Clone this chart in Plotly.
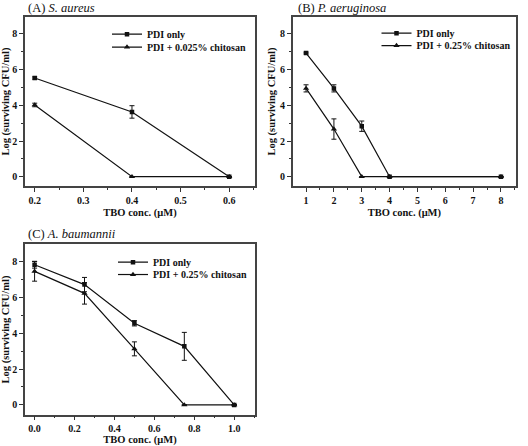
import plotly.graph_objects as go

# ---- data ----
a_x = [0.2, 0.4, 0.6]
a_pdi = [5.53, 3.63, 0.0]
a_pdi_err = [0.06, 0.35, 0.0]
a_chi = [4.02, 0.0, 0.0]
a_chi_err = [0.1, 0.0, 0.0]

b_x = [1, 2, 3, 4, 8]
b_pdi = [6.93, 4.95, 2.83, 0.0, 0.0]
b_pdi_err = [0.05, 0.2, 0.29, 0.0, 0.0]
b_chi = [4.95, 2.67, 0.0, 0.0, 0.0]
b_chi_err = [0.2, 0.57, 0.0, 0.0, 0.0]

c_x = [0.0, 0.25, 0.5, 0.75, 1.0]
c_pdi = [7.83, 6.72, 4.56, 3.27, 0.0]
c_pdi_err = [0.19, 0.4, 0.15, 0.78, 0.0]
c_chi = [7.46, 6.23, 3.13, 0.0, 0.0]
c_chi_err = [0.55, 0.6, 0.39, 0.0, 0.0]

titles = ["(A) <i>S. aureus</i>", "(B) <i>P. aeruginosa</i>", "(C) <i>A. baumannii</i>"]
legend_names = [
    ["PDI only", "PDI + 0.025% chitosan"],
    ["PDI only", "PDI + 0.25% chitosan"],
    ["PDI only", "PDI + 0.25% chitosan"],
]
x_title = "TBO conc. (μM)"
y_title = "Log (surviving CFU/ml)"

W, H = 528, 446
FONT = "Liberation Serif"

fig = go.Figure()

def px_x(p):
    return p / W

def px_y(p):
    return 1 - p / H

panels = [
    (a_x, a_pdi, a_pdi_err, a_chi, a_chi_err),
    (b_x, b_pdi, b_pdi_err, b_chi, b_chi_err),
    (c_x, c_pdi, c_pdi_err, c_chi, c_chi_err),
]
# legend placement: (text-left x, row1 y, row2 y) in pixels
leg_rows = [(147, 34.5, 47.5), (416.5, 33.5, 46), (153, 264.5, 277)]
leg_common = dict(
    bgcolor="rgba(0,0,0,0)", borderwidth=0,
    font=dict(family=FONT, size=10, color="#111", weight="bold"),
    xanchor="left", yanchor="middle", itemwidth=30,
)
legend_layout = {}
for i, (x, p, pe, c, ce) in enumerate(panels):
    xa = "x" if i == 0 else f"x{i+1}"
    ya = "y" if i == 0 else f"y{i+1}"
    lp = "legend" if i == 0 else f"legend{2*i+1}"
    lc = f"legend{2*i+2}"
    tx, r1, r2 = leg_rows[i]
    legend_layout[lp] = dict(leg_common, x=px_x(tx - 40), y=px_y(r1))
    legend_layout[lc] = dict(leg_common, x=px_x(tx - 40), y=px_y(r2))
    fig.add_trace(go.Scatter(
        x=x, y=c, name=legend_names[i][1], xaxis=xa, yaxis=ya,
        mode="lines+markers", legend=lc,
        line=dict(color="#111", width=1.2),
        marker=dict(symbol="triangle-up", size=5.5, color="#111"),
        error_y=dict(type="data", array=ce, visible=True, color="#111", thickness=1, width=2.5),
    ))
    fig.add_trace(go.Scatter(
        x=x, y=p, name=legend_names[i][0], xaxis=xa, yaxis=ya,
        mode="lines+markers", legend=lp,
        line=dict(color="#111", width=1.2),
        marker=dict(symbol="square", size=4.5, color="#111"),
        error_y=dict(type="data", array=pe, visible=True, color="#111", thickness=1, width=2.5),
    ))

axis_common = dict(
    showline=True, linecolor="#444", linewidth=1.5, mirror=True,
    ticks="outside", ticklen=4, tickwidth=1, tickcolor="#333",
    showgrid=False, zeroline=False,
    tickfont=dict(family=FONT, size=10, color="#111", weight="bold"),
    title_font=dict(family=FONT, size=10.5, color="#111", weight="bold"),
)

frames = {
    "A": ([25, 255], [17, 188]),
    "B": ([292.7, 516], [17, 188]),
    "C": ([25, 255], [246.7, 418.3]),
}
xranges = [[0.18, 0.653], [0.52, 8.54], [-0.048, 1.104]]
xdticks = [0.1, 1, 0.2]
xminor = [0.05, 0.5, 0.1]
xfmt = [".1f", "d", ".1f"]

for i, key in enumerate(["A", "B", "C"]):
    (x0, x1), (y0, y1) = frames[key]
    sfx = "" if i == 0 else str(i + 1)
    fig.update_layout(**{
        f"xaxis{sfx}": dict(
            axis_common, domain=[px_x(x0), px_x(x1)], range=xranges[i],
            anchor=f"y{sfx}", dtick=xdticks[i], tick0=0, tickformat=xfmt[i],
            minor=dict(ticks="outside", ticklen=2, dtick=xminor[i], tickcolor="#333"),
            title=dict(text=x_title, standoff=4),
        ),
        f"yaxis{sfx}": dict(
            axis_common, domain=[px_y(y1), px_y(y0)], range=[-0.54, 8.96],
            anchor=f"x{sfx}", dtick=2, tick0=0,
            minor=dict(ticks="outside", ticklen=2, dtick=1, tickcolor="#333"),
            title=dict(text=y_title, standoff=2),
        ),
    })

# panel titles (top-left corner of the text box, in pixels)
title_pos = [(26.5, 0), (296.5, 0), (26.5, 228)]
for t, (tx, ty) in zip(titles, title_pos):
    fig.add_annotation(
        text=t, x=px_x(tx), y=px_y(ty), xref="paper", yref="paper",
        xanchor="left", yanchor="top", showarrow=False, borderpad=0,
        font=dict(family=FONT, size=12.5, color="#111"),
    )

fig.update_layout(**legend_layout)
fig.update_layout(
    width=W, height=H, margin=dict(l=0, r=0, t=0, b=0),
    paper_bgcolor="white", plot_bgcolor="white", showlegend=True,
)

fig.write_html(
    "out.html",
    config={"displayModeBar": False},
    post_script="document.body.style.margin='0';document.body.style.overflow='hidden';",
)
